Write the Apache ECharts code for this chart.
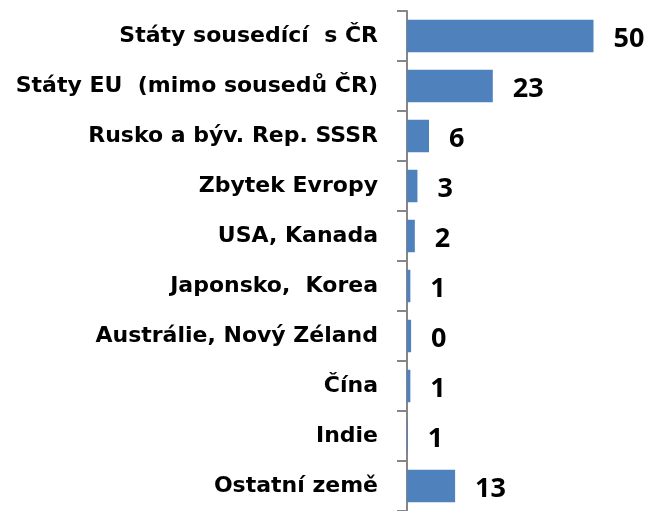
<!DOCTYPE html>
<html>
<head>
<meta charset="utf-8">
<script src="https://cdn.jsdelivr.net/npm/echarts@6/dist/echarts.min.js"></script>
<style>
  html, body { margin: 0; padding: 0; background: #fff; }
  #chart { width: 646px; height: 511px; }
</style>
</head>
<body>
<div id="chart"></div>
<script>
// kategorie odshora dolů
const regions = [
  'Státy sousedící  s ČR',
  'Státy EU  (mimo sousedů ČR)',
  'Rusko a býv. Rep. SSSR',
  'Zbytek Evropy',
  'USA, Kanada',
  'Japonsko,  Korea',
  'Austrálie, Nový Zéland',
  'Čína',
  'Indie',
  'Ostatní země'
]
// délky sloupců
const shares = [50, 23, 5.9, 2.8, 2.1, 0.9, 1.1, 0.9, 0.2, 12.9]
// popisky hodnot tak, jak jsou v grafu
const shareLabels = ['50', '23', '6', '3', '2', '1', '0', '1', '1', '13']

const myChart = echarts.init(document.getElementById('chart'))
const option = {
  animation: false,
  grid: {
    left: 407,
    top: 11,
    width: 186.5,
    height: 506
  },
  xAxis: {
    type: 'value',
    min: 0,
    max: 50,
    show: false
  },
  yAxis: {
    type: 'category',
    inverse: true,
    data: regions,
    axisLine: { show: true, lineStyle: { color: '#868686', width: 2 } },
    axisTick: { show: true, length: 10, lineStyle: { color: '#868686', width: 2 } },
    axisLabel: {
      margin: 29,
      color: '#000',
      fontFamily: 'DejaVu Sans',
      fontWeight: 'bold',
      fontSize: 22,
      padding: [5, 0, 0, 0]
    }
  },
  series: [
    {
      type: 'bar',
      data: shares,
      barCategoryGap: '35%',
      itemStyle: { color: '#4F81BD' },
      label: {
        show: true,
        position: 'right',
        distance: 20,
        offset: [0, 3],
        color: '#000',
        fontFamily: 'Open Sans',
        fontWeight: 'bold',
        fontSize: 27,
        formatter: p => shareLabels[p.dataIndex]
      }
    }
  ]
}
myChart.setOption(option)
</script>
</body>
</html>
